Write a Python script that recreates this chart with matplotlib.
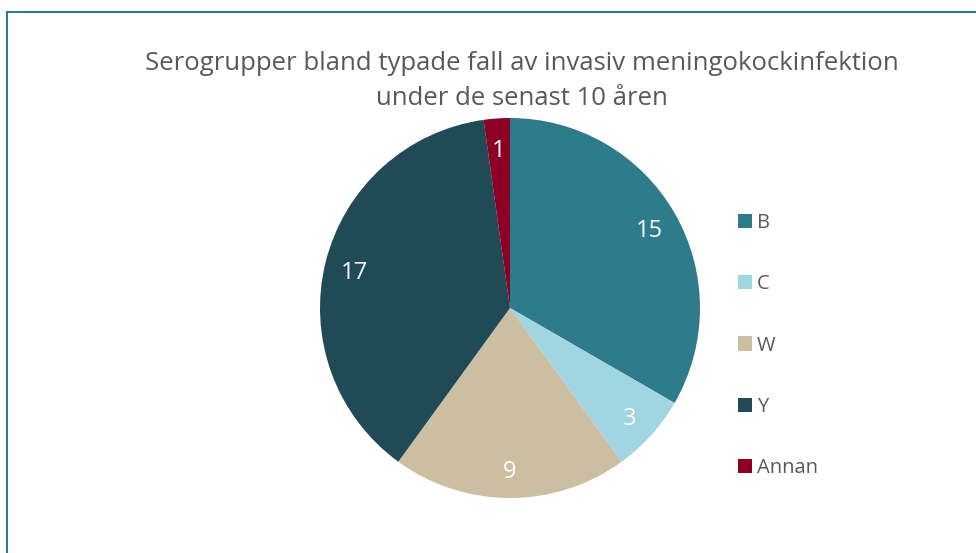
import matplotlib
matplotlib.use("Agg")
import matplotlib.pyplot as plt
from matplotlib.patches import Rectangle, Patch
import numpy as np

plt.rcParams['font.family'] = ['Open Sans', 'DejaVu Sans']

categories = ["B", "C", "W", "Y", "Annan"]
values = [15, 3, 9, 17, 1]
colors = ["#2E7B8C", "#A1D5E1", "#CBBEA1", "#1F4A56", "#8B0024"]
title = "Serogrupper bland typade fall av invasiv meningokockinfektion\nunder de senast 10 åren"

W, H = 976, 553
fig = plt.figure(figsize=(W/100, H/100), dpi=100)

# border
fig.patches.append(Rectangle((6.5/W, -0.1), 1.2, 1 - 12.5/H + 0.1, transform=fig.transFigure,
                             fill=False, edgecolor="#2E7B8C", linewidth=1.5))

cx, cy, R = 510, 308, 190
ax = fig.add_axes([(cx-R)/W, (H-cy-R)/H, 2*R/W, 2*R/H])
wedges, texts = ax.pie(values, colors=colors, startangle=90, counterclock=False,
                       radius=1.0, wedgeprops=dict(linewidth=0))
tot = sum(values)
ang = 90.0
for v in values:
    mid = ang - 360.0 * v / tot / 2
    ang -= 360.0 * v / tot
    r = 0.845
    ax.annotate(str(v), (r*np.cos(np.radians(mid)), r*np.sin(np.radians(mid))),
                xytext=(0, -2.5), textcoords="offset points",
                ha="center", va="center", color="white", fontsize=17)
ax.set_xlim(-1, 1); ax.set_ylim(-1, 1)
ax.set_aspect("equal")
ax.axis("off")

fig.text(522/W, 1 - 81/H, title, ha="center", va="center", fontsize=18.5,
         color="#595959", linespacing=1.5)

handles = [Patch(facecolor=c, edgecolor="none") for c in colors]
leg = fig.legend(handles, categories, loc="upper left", bbox_to_anchor=(738/W, 1 - 213/H),
                 frameon=False, fontsize=14.5, handlelength=0.7, handleheight=0.7,
                 handletextpad=0.25, labelspacing=2.05, labelcolor="#595959",
                 borderaxespad=0, borderpad=0)

fig.savefig("out.png", dpi=100)
